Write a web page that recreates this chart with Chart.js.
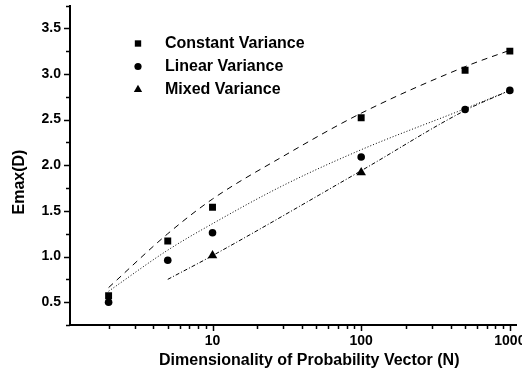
<!DOCTYPE html>
<html>
<head>
<meta charset="utf-8">
<script src="https://cdn.jsdelivr.net/npm/chart.js@4/dist/chart.umd.min.js"></script>
<style>
    html, body { margin: 0; padding: 0; background: #fff; overflow: hidden; }
    #wrap { width: 530px; height: 373px; position: relative; }
</style>
</head>
<body>
<div id="wrap"><canvas id="chart"></canvas></div>
<script>
// measured points
const nValues = [2, 5, 10, 100, 500, 1000]
const constantVariance = [0.57, 1.17, 1.54, 2.52, 3.04, 3.25]
const linearVariance = [0.50, 0.96, 1.26, 2.09, 2.61, 2.82]
const mixedN = [10, 100]
const mixedVariance = [1.01, 1.92]

// fitted curves
const fitN = [2, 5, 10, 30, 100, 500, 1000]
const constantFit = [0.66, 1.25, 1.63, 2.10, 2.57, 3.08, 3.26]
const linearFit = [0.62, 1.07, 1.36, 1.78, 2.17, 2.62, 2.82]
const mixedFitN = [5, 10, 100, 500, 1000]
const mixedFit = [0.75, 1.01, 1.94, 2.60, 2.82]

const xTicks = [2, 3, 4, 5, 6, 7, 8, 9, 10, 20, 30, 40, 50, 60, 70, 80, 90, 100, 200, 300, 400, 500, 600, 700, 800, 900, 1000]
const xLabels = [10, 100, 1000]
const legendNames = ["Constant Variance", "Linear Variance", "Mixed Variance"]
const xTitle = "Dimensionality of Probability Vector (N)"
const yTitle = "Emax(D)"

const FONT = "Arial, 'Liberation Sans', sans-serif"
const pts = (xs, ys) => xs.map((x, i) => ({ x: x, y: ys[i] }))

const isMajorY = (v) => Math.abs(v * 2 - Math.round(v * 2)) < 1e-6 && v > 0.3 && v < 3.6

// outward tick marks + axis titles + legend
const extras = {
    id: "extras",
    afterDraw(chart) {
        const ctx = chart.ctx
        const xs = chart.scales.x
        const ys = chart.scales.y
        const area = chart.chartArea
        ctx.save()
        ctx.strokeStyle = "#000"
        ctx.lineWidth = 1.5
        ctx.beginPath()
        xTicks.forEach((v) => {
            const px = Math.round(xs.getPixelForValue(v)) + 0.5
            const len = xLabels.includes(v) ? 6 : 4
            ctx.moveTo(px, area.bottom)
            ctx.lineTo(px, area.bottom + len)
        })
        ys.ticks.forEach((t) => {
            const py = Math.round(ys.getPixelForValue(t.value)) + 0.5
            const len = isMajorY(t.value) ? 6 : 4
            ctx.moveTo(area.left, py)
            ctx.lineTo(area.left - len, py)
        })
        ctx.stroke()

        // axis titles
        ctx.fillStyle = "#000"
        ctx.font = "bold 16px " + FONT
        ctx.textBaseline = "middle"
        ctx.textAlign = "left"
        ctx.fillText(xTitle, 159, 361)
        ctx.translate(20, 182)
        ctx.rotate(-Math.PI / 2)
        ctx.textAlign = "center"
        ctx.fillText(yTitle, 0, 0)
        ctx.restore()

        // legend
        ctx.save()
        ctx.font = "bold 16px " + FONT
        ctx.textBaseline = "middle"
        ctx.fillStyle = "#000"
        ctx.strokeStyle = "#000"
        const rows = [43.5, 66.5, 89.5]
        const legendRadius = [4.5, 3.6, 4.8]
        ;[0, 1, 2].forEach((i) => {
            const ds = chart.data.datasets[i]
            Chart.helpers.drawPoint(ctx, {
                pointStyle: ds.pointStyle,
                radius: legendRadius[i],
                rotation: 0,
                borderWidth: 0,
            }, 138, rows[i])
            ctx.fillText(legendNames[i], 165, rows[i] + 0.5)
        })
        ctx.restore()
    },
}

const lineBase = {
    pointRadius: 0,
    borderColor: "#000",
    borderWidth: 1,
    fill: false,
    cubicInterpolationMode: "monotone",
}

new Chart(document.getElementById("chart"), {
    type: "line",
    data: {
        datasets: [
            { label: legendNames[0], data: pts(nValues, constantVariance), showLine: false, pointStyle: "rect", pointRadius: 4.9, backgroundColor: "#000", borderColor: "#000", borderWidth: 0 },
            { label: legendNames[1], data: pts(nValues, linearVariance), showLine: false, pointStyle: "circle", pointRadius: 3.8, backgroundColor: "#000", borderColor: "#000", borderWidth: 0 },
            { label: legendNames[2], data: pts(mixedN, mixedVariance), showLine: false, pointStyle: "triangle", pointRadius: 5.5, backgroundColor: "#000", borderColor: "#000", borderWidth: 0 },
            { ...lineBase, label: "constant fit", data: pts(fitN, constantFit), borderDash: [6, 5] },
            { ...lineBase, label: "linear fit", data: pts(fitN, linearFit), borderDash: [1, 2] },
            { ...lineBase, label: "mixed fit", data: pts(mixedFitN, mixedFit), borderDash: [4, 2, 1, 2] },
        ],
    },
    options: {
        responsive: true,
        maintainAspectRatio: false,
        animation: false,
        devicePixelRatio: 1,
        layout: { padding: { top: 5, right: 14, left: 0, bottom: 0 } },
        plugins: { legend: { display: false }, tooltip: { enabled: false } },
        scales: {
            x: {
                type: "logarithmic",
                min: 1.1,
                max: 1100,
                afterBuildTicks: (scale) => {
                    scale.ticks = xTicks.map((v) => ({ value: v, major: xLabels.includes(v) }))
                },
                afterFit: (scale) => {
                    scale.height = 48
                    scale.paddingLeft = 0
                    scale.paddingRight = 0
                },
                grid: { drawOnChartArea: false, drawTicks: false },
                border: { display: true, color: "#000", width: 2 },
                ticks: {
                    autoSkip: false,
                    maxRotation: 0,
                    padding: 8,
                    color: "#000",
                    font: { family: FONT, size: 14, weight: "bold" },
                    callback: (v) => (xLabels.includes(v) ? String(v) : ""),
                },
            },
            y: {
                min: 0.25,
                max: 3.75,
                afterFit: (scale) => {
                    scale.width = 70
                    scale.paddingTop = 0
                    scale.paddingBottom = 0
                },
                grid: { drawOnChartArea: false, drawTicks: false },
                border: { display: true, color: "#000", width: 2 },
                ticks: {
                    stepSize: 0.25,
                    autoSkip: false,
                    padding: 9,
                    color: "#000",
                    font: { family: FONT, size: 14, weight: "bold" },
                    callback: (v) => (isMajorY(v) ? v.toFixed(1) : ""),
                },
            },
        },
    },
    plugins: [extras],
})
</script>
</body>
</html>
